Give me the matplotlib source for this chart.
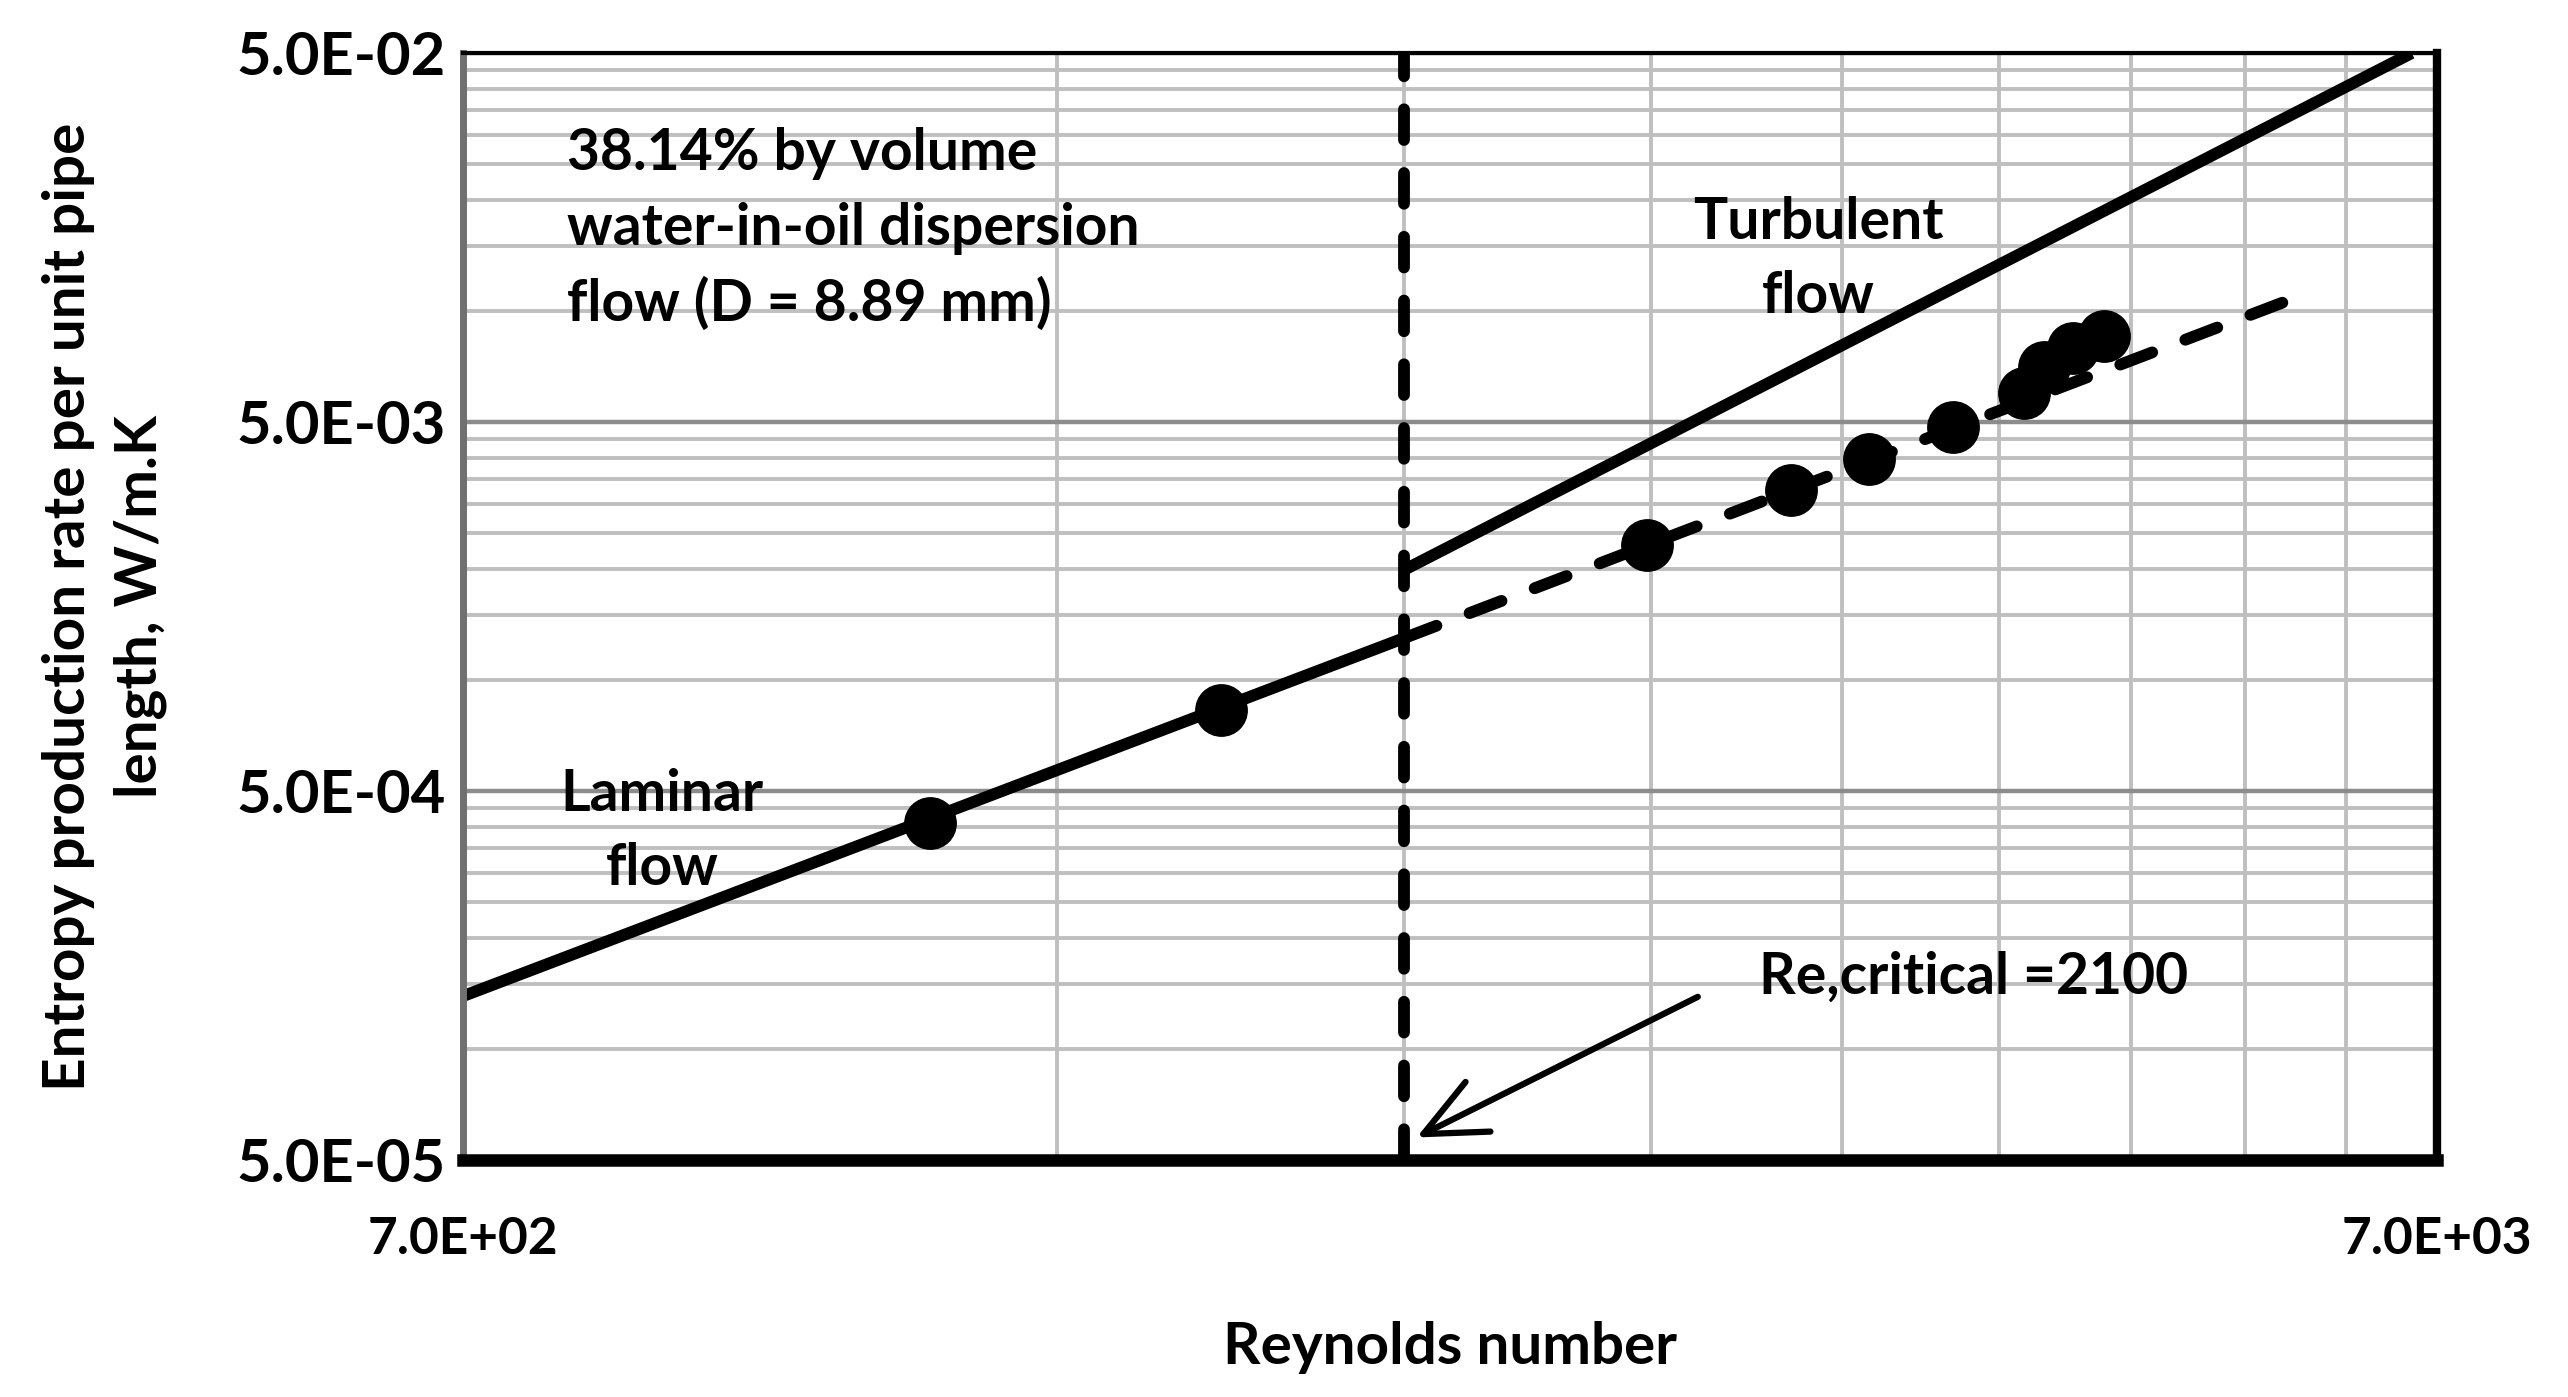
import matplotlib
matplotlib.use("Agg")
import matplotlib.pyplot as plt
import numpy as np

# measured points (Reynolds number, entropy production rate W/m.K)
lam_re = [1207, 1695]
lam_s = [4.1e-4, 8.3e-4]
turb_re = [2787, 3298, 3610, 3984, 4327, 4428, 4579, 4751]
turb_s = [2.32e-3, 3.27e-3, 3.96e-3, 4.86e-3, 5.98e-3, 7.06e-3, 7.92e-3, 8.55e-3]

# model lines
laminar_line_re = [700, 2100]
laminar_line_s = [1.39e-4, 1.30e-3]
laminar_ext_re = [2100, 6000]
laminar_ext_s = [1.30e-3, 1.11e-2]
turb_line_re = [2100, 6800]
turb_line_s = [1.99e-3, 5.0e-2]
re_crit = 2100

xticks = [700, 7000]
xticklabels = ['7.0E+02', '7.0E+03']
yticks = [5e-5, 5e-4, 5e-3, 5e-2]
yticklabels = ['5.0E-05', '5.0E-04', '5.0E-03', '5.0E-02']

plt.rcParams['font.family'] = ['Lato', 'DejaVu Sans']
plt.rcParams['font.weight'] = 'bold'

fig = plt.figure(figsize=(25.68, 13.97), dpi=100)
ax = fig.add_axes([0.1802, 0.1696, 0.7686, 0.7924])
ax.set_xscale('log')
ax.set_yscale('log')
ax.set_xlim(700, 7000)
ax.set_ylim(5e-5, 5e-2)

# grid
xminor = [700 * k for k in range(2, 10)]
yminor = [5e-5 * k * 10 ** n for n in range(3) for k in range(2, 10)]
ax.set_xticks(xticks)
ax.set_xticklabels(xticklabels)
ax.set_xticks(xminor, minor=True)
ax.set_xticklabels([], minor=True)
ax.set_yticks(yticks)
ax.set_yticklabels(yticklabels)
ax.set_yticks(yminor, minor=True)
ax.set_yticklabels([], minor=True)
ax.grid(True, which='minor', color='#bfbfbf', lw=2.8, zorder=0)
ax.grid(True, which='major', color='#8c8c8c', lw=3.2, zorder=0)
ax.tick_params(which='both', length=0)
ax.tick_params(axis='x', pad=40, labelsize=37)
ax.tick_params(axis='y', pad=12, labelsize=43)
ax.set_axisbelow(True)

lw = 8.5
ax.plot(laminar_line_re, laminar_line_s, color='black', lw=lw, solid_capstyle='butt', zorder=3)
ax.plot(laminar_ext_re, laminar_ext_s, color='black', lw=lw, dashes=(2.9, 3.0),
        dash_capstyle='round', zorder=3)
ax.plot(turb_line_re, turb_line_s, color='black', lw=lw, solid_capstyle='butt', zorder=3)
ax.plot([re_crit, re_crit], [5e-5, 5e-2], color='black', lw=lw, dashes=(2.6, 2.8),
        dash_capstyle='round', zorder=3)

ax.plot(lam_re, lam_s, 'o', color='black', ms=37, zorder=4)
ax.plot(turb_re, turb_s, 'o', color='black', ms=37, zorder=4)

for side in ['top', 'left', 'right', 'bottom']:
    ax.spines[side].set_zorder(5)
ax.spines['top'].set_linewidth(3)
ax.spines['left'].set_linewidth(5)
ax.spines['left'].set_color('#707070')
ax.spines['right'].set_linewidth(6)
ax.spines['bottom'].set_linewidth(9)

ax.text(0.053, 0.841, '38.14% by volume\nwater-in-oil dispersion\nflow (D = 8.89 mm)',
        transform=ax.transAxes, fontsize=41, fontweight='bold', ha='left', va='center',
        linespacing=1.5)
ax.text(0.687, 0.8135, 'Turbulent\nflow', transform=ax.transAxes, fontsize=41,
        fontweight='bold', ha='center', va='center', linespacing=1.5)
ax.text(0.101, 0.297, 'Laminar\nflow', transform=ax.transAxes, fontsize=41,
        fontweight='bold', ha='center', va='center', linespacing=1.5)
ax.text(0.7655, 0.165, 'Re,critical =2100', transform=ax.transAxes, fontsize=41,
        fontweight='bold', ha='center', va='center')
ax.annotate('', xy=(0.482, 0.0193), xytext=(0.627, 0.1486), xycoords='axes fraction',
            arrowprops=dict(arrowstyle='->, head_length=2.2, head_width=1.0', lw=4.5,
                            color='black', mutation_scale=20), zorder=6)

ax.set_xlabel('Reynolds number', fontsize=42, fontweight='bold', labelpad=42)
ax.set_ylabel('Entropy production rate per unit pipe\nlength, W/m.K', fontsize=42,
              fontweight='bold', labelpad=50, linespacing=1.45)

fig.savefig('out.png', dpi=100)
